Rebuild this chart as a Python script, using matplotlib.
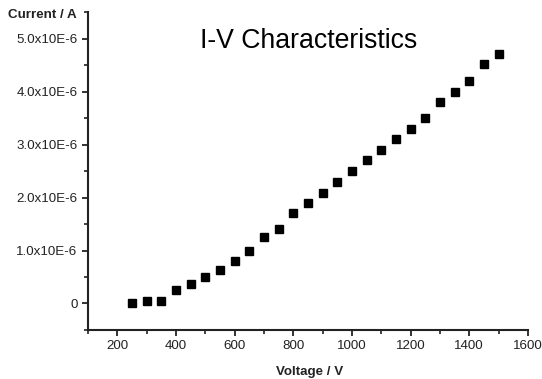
#!/usr/bin/env python3
"""I-V characteristics scatter plot."""

import matplotlib

matplotlib.use("Agg")

import matplotlib.pyplot as plt
import numpy as np
from matplotlib.ticker import FixedLocator, FuncFormatter, MultipleLocator

plt.rcParams["font.family"] = ["Liberation Sans", "DejaVu Sans"]

voltage = [250, 300, 350, 400, 450, 500, 550, 600, 650, 700, 750, 800, 850,
           900, 950, 1000, 1050, 1100, 1150, 1200, 1250, 1300, 1350, 1400, 1450, 1500]
current_ua = [0.00, 0.04, 0.05, 0.26, 0.37, 0.50, 0.64, 0.80, 1.00, 1.25, 1.41, 1.70, 1.90,
              2.09, 2.30, 2.50, 2.70, 2.90, 3.10, 3.30, 3.50, 3.80, 4.00, 4.20, 4.51, 4.70]
current = np.array(current_ua) * 1e-6

x_ticks = [200, 400, 600, 800, 1000, 1200, 1400, 1600]
y_ticks = [0, 1e-6, 2e-6, 3e-6, 4e-6, 5e-6]
y_tick_labels = ["0", "1.0x10E-6", "2.0x10E-6", "3.0x10E-6", "4.0x10E-6", "5.0x10E-6"]


def fmt_y(value, pos):
    for tick, label in zip(y_ticks, y_tick_labels):
        if abs(value - tick) < 1e-9:
            return label
    return ""


fig = plt.figure(figsize=(5.42, 3.79), dpi=100)
ax = fig.add_axes([0.1624, 0.1293, 0.974 - 0.1624, 0.9683 - 0.1293])

ax.plot(voltage, current, linestyle="none", marker="s", markersize=5.3,
        color="black")

ax.set_xlim(100, 1600)
ax.set_ylim(-0.5e-6, 5.5e-6)
ax.xaxis.set_major_locator(FixedLocator(x_ticks))
ax.xaxis.set_minor_locator(MultipleLocator(100))
ax.yaxis.set_major_locator(FixedLocator(y_ticks))
ax.yaxis.set_minor_locator(MultipleLocator(0.5e-6))
ax.yaxis.set_major_formatter(FuncFormatter(fmt_y))

for side in ("top", "right"):
    ax.spines[side].set_visible(False)
for side in ("left", "bottom"):
    ax.spines[side].set_linewidth(1.5)
    ax.spines[side].set_color("#222222")

ax.tick_params(which="major", direction="out", length=4, width=1.3,
               labelsize=9.6, colors="#222222", pad=3.5)
ax.tick_params(which="minor", direction="out", length=3, width=1.2,
               colors="#222222")

fig.text(0.015, 0.96, "Current / A", fontsize=9.6, fontweight="bold",
         ha="left", va="center", color="#222222")
fig.text(0.572, 0.018, "Voltage / V", fontsize=9.6, fontweight="bold",
         ha="center", va="center", color="#222222")
fig.text(0.569, 0.892, "I-V Characteristics", fontsize=19.2,
         ha="center", va="center", color="black")

fig.savefig("out.png", dpi=100)
